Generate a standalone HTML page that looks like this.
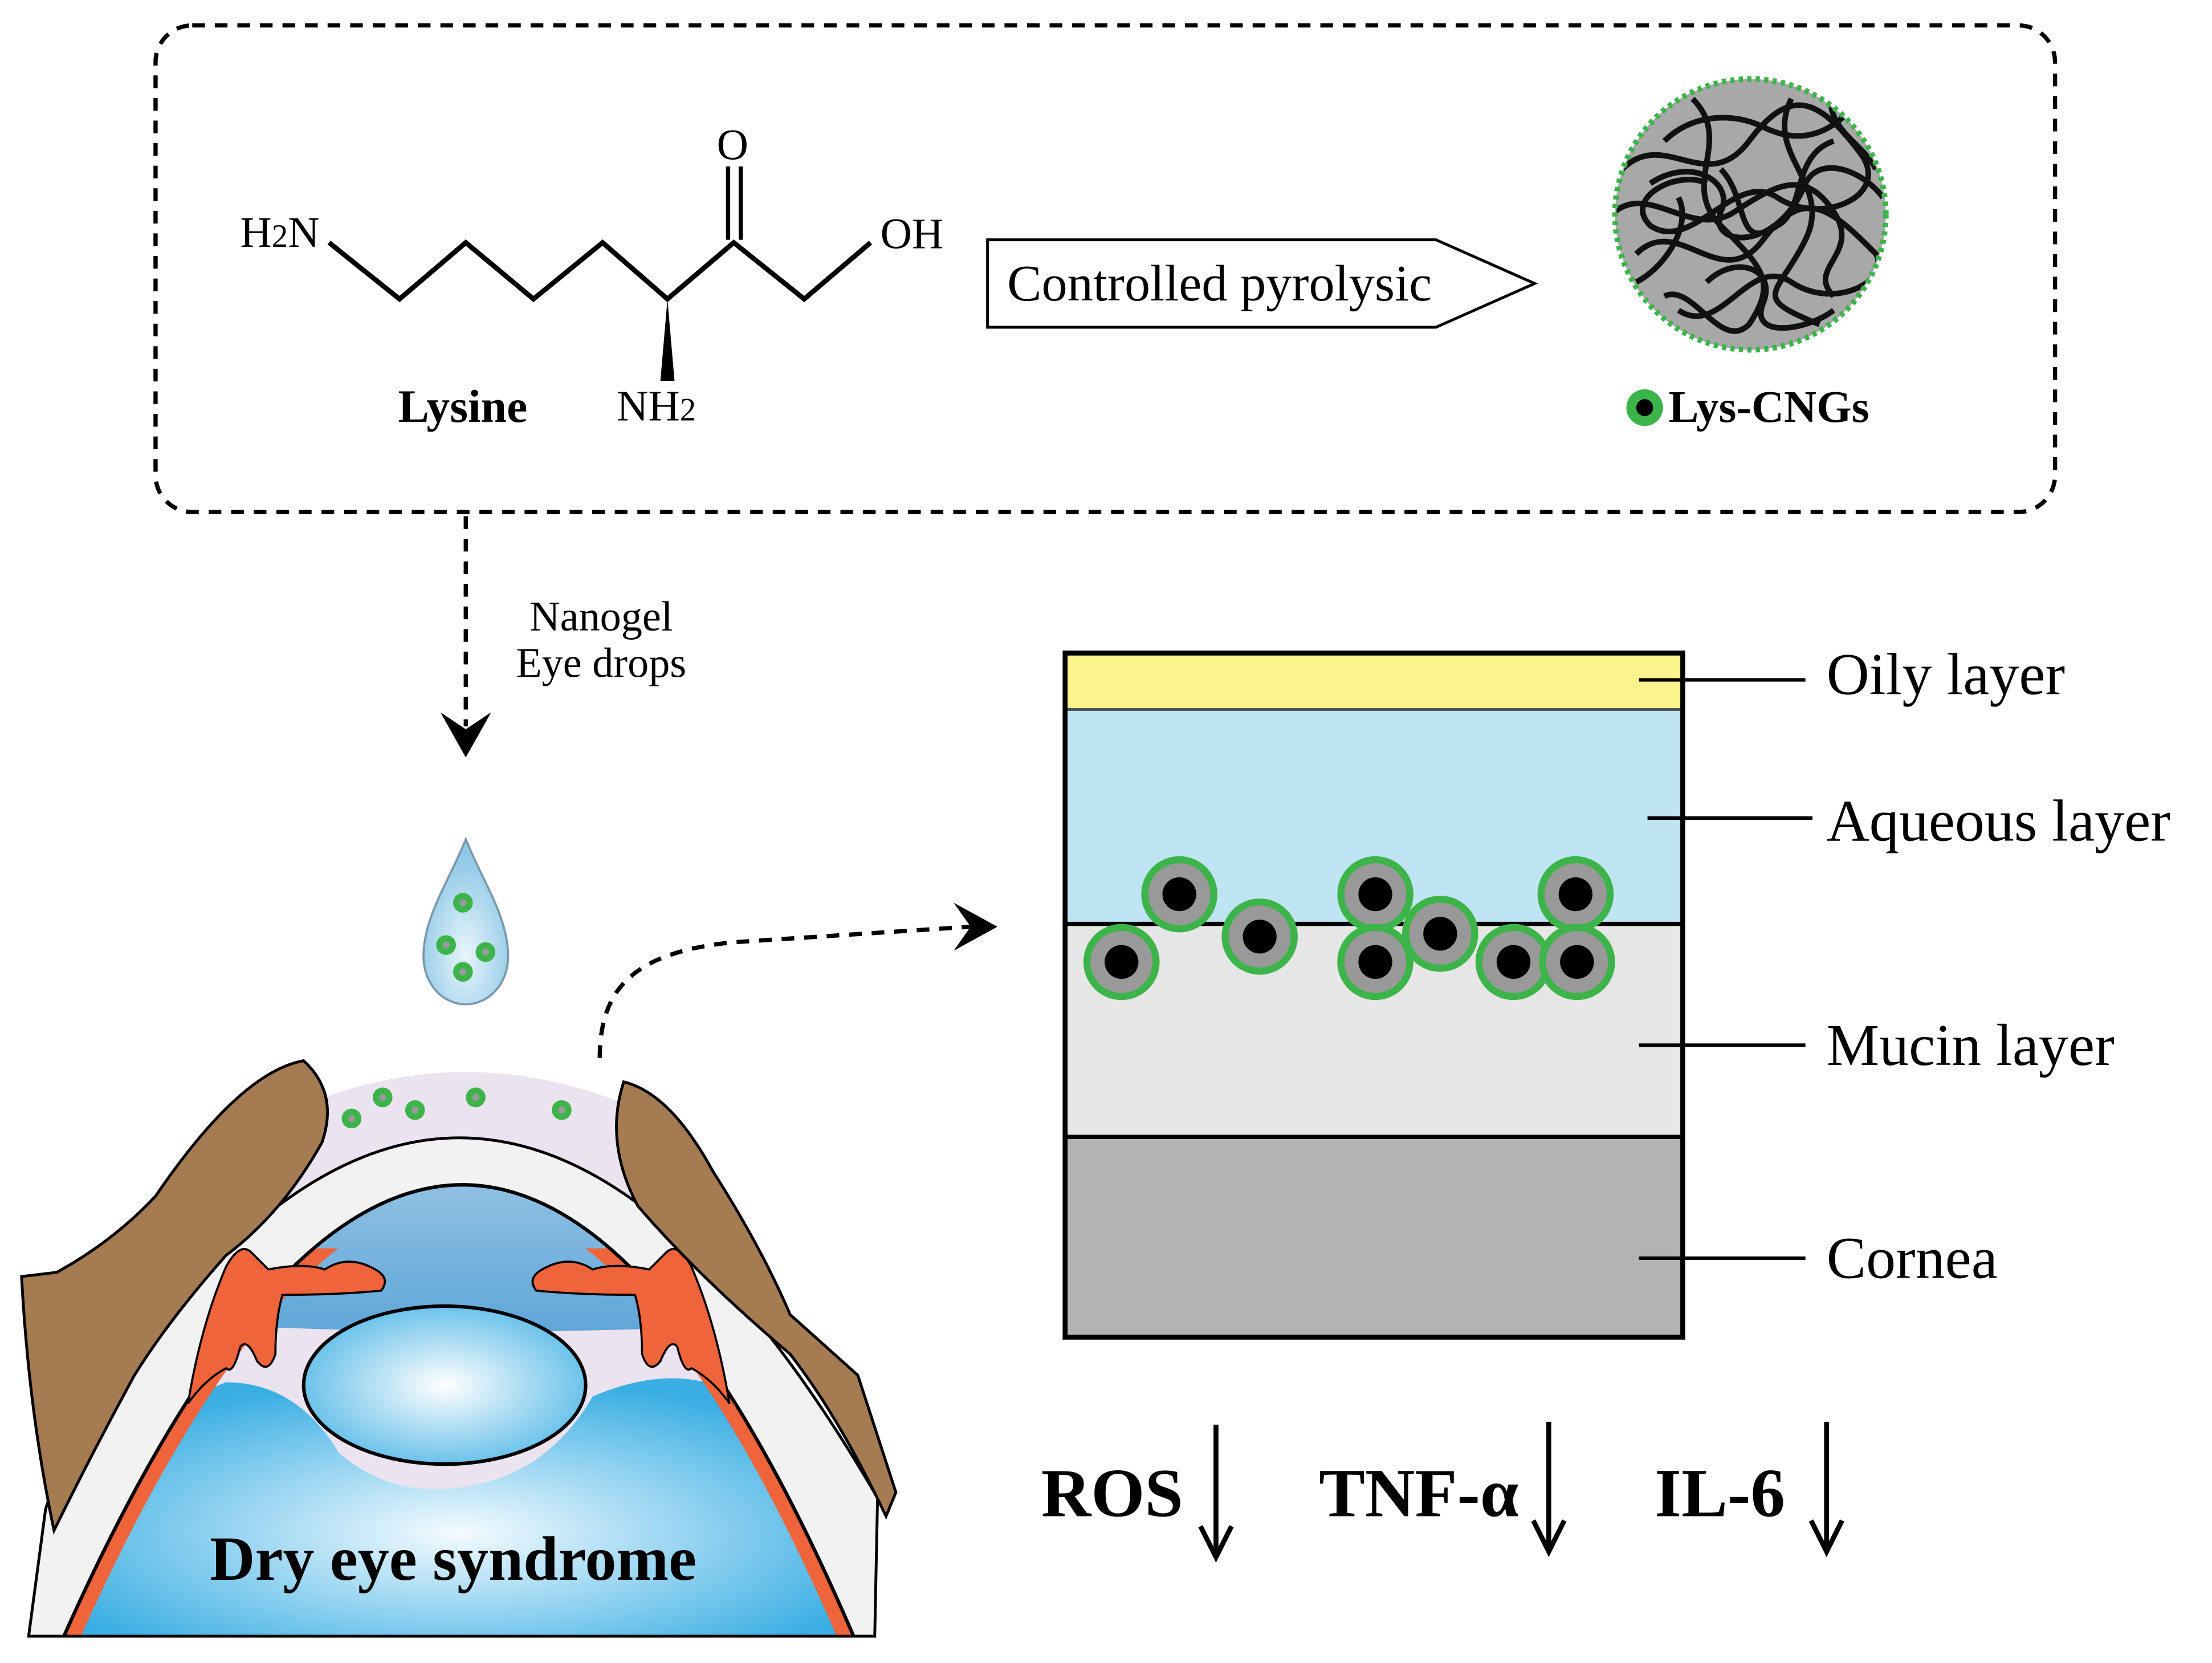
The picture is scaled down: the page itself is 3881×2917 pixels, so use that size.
<!DOCTYPE html>
<html><head><meta charset="utf-8"><style>
html,body{margin:0;padding:0;background:#fff}
svg{display:block}
text{font-family:"Liberation Serif",serif}
</style></head><body>
<svg width="3881" height="2917" viewBox="0 0 1568 1179" xmlns="http://www.w3.org/2000/svg">
<defs>
<radialGradient id="lens" cx="0.5" cy="0.5" r="0.6"><stop offset="0" stop-color="#fff"/><stop offset="1" stop-color="#4fb6e6"/></radialGradient>
<radialGradient id="post" cx="0.5" cy="0.6" r="0.6"><stop offset="0" stop-color="#f4fbff"/><stop offset="1" stop-color="#3aaee3"/></radialGradient>
<linearGradient id="ant" x1="0" y1="0" x2="0" y2="1"><stop offset="0" stop-color="#cfe3f1"/><stop offset="1" stop-color="#5fa6d8"/></linearGradient>
<radialGradient id="drop" cx="0.5" cy="0.7" r="0.6"><stop offset="0" stop-color="#e8f5fb"/><stop offset="1" stop-color="#8fc8e8"/></radialGradient>
<clipPath id="ng"><circle cx="1241" cy="152" r="95"/></clipPath>
<clipPath id="low"><rect x="0" y="885" width="700" height="300"/></clipPath>
<clipPath id="inner"><path d="M45,1160 Q330,520 605,1160 Z"/></clipPath>
</defs>

<rect x="110" y="18" width="1347" height="345" rx="26" fill="none" stroke="#000" stroke-width="3" stroke-dasharray="9,7"/>

<text x="170" y="175" font-size="31">H<tspan font-size="23">2</tspan>N</text>
<polyline points="233,172 283,212 330,172 378,212 427,172 473,212 520,172 570,212 617,172" fill="none" stroke="#000" stroke-width="3.5"/>
<line x1="516" y1="170" x2="516" y2="118" stroke="#000" stroke-width="3"/>
<line x1="525" y1="170" x2="525" y2="118" stroke="#000" stroke-width="3"/>
<text x="508" y="113" font-size="31">O</text>
<text x="624" y="176" font-size="31">OH</text>
<polygon points="473,212 468,270 478,270" fill="#000"/>
<text x="437" y="298" font-size="31">NH<tspan font-size="23">2</tspan></text>
<text x="282" y="299" font-size="33" font-weight="bold">Lysine</text>

<polygon points="700,170 1018,170 1088,201 1018,232 700,232" fill="#fff" stroke="#000" stroke-width="2"/>
<text x="714" y="213" font-size="36.5">Controlled pyrolysic</text>

<circle cx="1241" cy="152" r="96" fill="#a8a8a8"/>
<g clip-path="url(#ng)" fill="none" stroke="#111" stroke-width="4">
<path d="M1150,120 C1180,90 1210,140 1240,100 S1290,70 1320,110 C1340,140 1290,160 1260,140 S1200,180 1170,160 C1150,140 1190,120 1210,130"/>
<path d="M1160,180 C1190,150 1220,210 1250,170 S1300,150 1330,180 C1340,200 1300,220 1270,200 S1220,240 1190,220"/>
<path d="M1200,70 C1230,100 1190,130 1220,160 S1260,200 1240,230 C1220,250 1200,200 1180,210"/>
<path d="M1270,70 C1250,110 1300,130 1280,170 S1240,210 1290,230"/>
<path d="M1145,150 C1170,130 1200,170 1230,150 S1280,120 1300,150 C1320,180 1280,190 1300,210"/>
<path d="M1180,100 C1200,80 1230,80 1250,90 C1280,105 1300,90 1310,80"/>
<path d="M1210,200 C1230,180 1260,190 1250,215 C1240,240 1280,235 1300,220"/>
<path d="M1170,130 C1200,110 1230,130 1220,150 C1210,175 1260,180 1280,130 C1290,110 1320,120 1335,140"/>
<path d="M1220,120 C1240,140 1230,180 1260,160 C1280,150 1270,110 1300,100"/>
<path d="M1160,200 C1180,190 1200,160 1190,140 M1300,60 C1290,90 1320,100 1330,120"/>
</g>
<circle cx="1241" cy="152" r="96" fill="none" stroke="#3cb44a" stroke-width="4" stroke-dasharray="3,3"/>
<circle cx="1166" cy="289" r="13" fill="#3cb44a"/><circle cx="1166" cy="289" r="6" fill="#000"/>
<text x="1183" y="299" font-size="32" font-weight="bold">Lys-CNGs</text>

<line x1="330" y1="366" x2="330" y2="515" stroke="#000" stroke-width="3" stroke-dasharray="9,7"/>
<path d="M312,505 L330,537 L348,505 L330,517 Z" fill="#000"/>
<text x="426" y="447" font-size="30" text-anchor="middle">Nanogel</text>
<text x="426" y="480" font-size="30" text-anchor="middle">Eye drops</text>

<path d="M330,595 C318,625 300,650 300,678 C300,698 314,712 330,712 C346,712 360,698 360,678 C360,650 342,625 330,595 Z" fill="url(#drop)" stroke="#7a98aa" stroke-width="1.5"/>
<g fill="#3cb44a"><circle cx="328" cy="640" r="7"/><circle cx="316" cy="670" r="7"/><circle cx="344" cy="675" r="7"/><circle cx="328" cy="689" r="7"/></g>
<g fill="#999"><circle cx="328" cy="640" r="2.5"/><circle cx="316" cy="670" r="2.5"/><circle cx="344" cy="675" r="2.5"/><circle cx="328" cy="689" r="2.5"/></g>

<path d="M425,750 C425,700 450,675 520,668 L688,657" fill="none" stroke="#000" stroke-width="3" stroke-dasharray="9,7"/>
<path d="M676,640 L707,657 L676,674 L688,657 Z" fill="#000"/>

<!-- eye -->
<path d="M200,790 Q330,730 460,790 L470,900 L190,900 Z" fill="#ebe4f0"/>
<path d="M20,1160 L32,1070 L40,1045 Q330,560 622,1062 L620,1160 Z" fill="#f2f2f2" stroke="#000" stroke-width="2"/>
<path d="M45,1160 Q330,520 605,1160 Z" fill="#ebe4f0"/>
<g clip-path="url(#inner)">
<path d="M0,700 L700,700 L700,928 Q330,960 0,928 Z" fill="url(#ant)"/>
<path d="M57,1160 Q75,1010 160,980 Q210,980 240,1030 Q275,1060 320,1055 Q385,1050 420,990 Q490,960 540,1000 Q580,1060 593,1160 Z" fill="url(#post)"/>
<g clip-path="url(#low)">
<path d="M45,1160 Q330,520 605,1160" fill="none" stroke="#ef643a" stroke-width="22"/>
</g>
</g>
<path d="M45,1160 Q330,520 605,1160" fill="none" stroke="#000" stroke-width="2.5"/>
<path d="M160,898 Q170,880 178,888 L190,900 Q215,895 230,900 Q245,890 262,898 Q278,905 270,915 Q240,918 200,918 Q195,935 195,960 Q190,975 182,965 Q175,948 170,955 Q165,975 160,970 Q145,978 133,995 Q142,940 160,898 Z" fill="#ef643a" stroke="#000" stroke-width="1.5"/>
<path d="M490,898 Q480,880 472,888 L460,900 Q435,895 420,900 Q405,890 388,898 Q372,905 380,915 Q410,918 450,918 Q455,935 455,960 Q460,975 468,965 Q475,948 480,955 Q485,975 490,970 Q505,978 517,995 Q508,940 490,898 Z" fill="#ef643a" stroke="#000" stroke-width="1.5"/>
<ellipse cx="315" cy="982" rx="100" ry="56" fill="url(#lens)" stroke="#000" stroke-width="2.5"/>
<path d="M15,905 L40,902 Q80,880 110,848 Q170,760 215,752 Q240,775 228,810 Q200,860 160,890 Q120,935 95,975 Q65,1030 38,1085 Q20,1000 15,905 Z" fill="#a57b52" stroke="#000" stroke-width="2"/>
<path d="M442,767 Q475,775 505,830 Q540,885 560,932 L608,975 L635,1058 L628,1075 Q595,1005 560,960 Q495,905 452,855 Q428,810 442,767 Z" fill="#a57b52" stroke="#000" stroke-width="2"/>
<g fill="#3cb44a"><circle cx="249" cy="793" r="7"/><circle cx="271" cy="778" r="7"/><circle cx="294" cy="787" r="7"/><circle cx="337" cy="778" r="7"/><circle cx="398" cy="787" r="7"/></g>
<g fill="#999"><circle cx="249" cy="793" r="2.5"/><circle cx="271" cy="778" r="2.5"/><circle cx="294" cy="787" r="2.5"/><circle cx="337" cy="778" r="2.5"/><circle cx="398" cy="787" r="2.5"/></g>
<line x1="20" y1="1160" x2="620" y2="1160" stroke="#000" stroke-width="2"/>
<text x="321" y="1120" font-size="44.5" font-weight="bold" text-anchor="middle">Dry eye syndrome</text>

<rect x="755" y="463" width="438" height="40" fill="#fbf48d"/>
<rect x="755" y="503" width="438" height="152" fill="#bfe5f5"/>
<rect x="755" y="655" width="438" height="151" fill="#e6e6e6"/>
<rect x="755" y="806" width="438" height="142" fill="#b3b3b3"/>
<line x1="755" y1="503" x2="1193" y2="503" stroke="#555" stroke-width="2"/>
<line x1="755" y1="655" x2="1193" y2="655" stroke="#000" stroke-width="3"/>
<line x1="755" y1="806" x2="1193" y2="806" stroke="#000" stroke-width="3"/>
<rect x="755" y="463" width="438" height="485" fill="none" stroke="#000" stroke-width="3.5"/>
<g stroke="#000" stroke-width="2.5">
<line x1="1162" y1="482" x2="1280" y2="482"/>
<line x1="1168" y1="580" x2="1285" y2="580"/>
<line x1="1162" y1="741" x2="1280" y2="741"/>
<line x1="1162" y1="892" x2="1280" y2="892"/>
</g>
<g font-size="42">
<text x="1295" y="492">Oily layer</text>
<text x="1295" y="596">Aqueous layer</text>
<text x="1295" y="755">Mucin layer</text>
<text x="1295" y="906">Cornea</text>
</g>
<g>
<g transform="translate(836,634)"><circle r="27" fill="#3cb44a"/><circle r="22" fill="#999"/><circle r="12" fill="#000"/></g>
<g transform="translate(893,664)"><circle r="27" fill="#3cb44a"/><circle r="22" fill="#999"/><circle r="12" fill="#000"/></g>
<g transform="translate(975,634)"><circle r="27" fill="#3cb44a"/><circle r="22" fill="#999"/><circle r="12" fill="#000"/></g>
<g transform="translate(1117,634)"><circle r="27" fill="#3cb44a"/><circle r="22" fill="#999"/><circle r="12" fill="#000"/></g>
<g transform="translate(795,682)"><circle r="27" fill="#3cb44a"/><circle r="22" fill="#999"/><circle r="12" fill="#000"/></g>
<g transform="translate(975,682)"><circle r="27" fill="#3cb44a"/><circle r="22" fill="#999"/><circle r="12" fill="#000"/></g>
<g transform="translate(1021,662)"><circle r="27" fill="#3cb44a"/><circle r="22" fill="#999"/><circle r="12" fill="#000"/></g>
<g transform="translate(1073,682)"><circle r="27" fill="#3cb44a"/><circle r="22" fill="#999"/><circle r="12" fill="#000"/></g>
<g transform="translate(1118,682)"><circle r="27" fill="#3cb44a"/><circle r="22" fill="#999"/><circle r="12" fill="#000"/></g>
</g>

<g font-size="49" font-weight="bold">
<text x="738" y="1075">ROS</text>
<text x="935" y="1075">TNF-α</text>
<text x="1173" y="1075">IL-6</text>
</g>
<g stroke="#000" stroke-width="3.5" fill="none">
<line x1="862" y1="1010" x2="862" y2="1100"/><polyline points="851,1082 862,1104 873,1082"/>
<line x1="1098" y1="1008" x2="1098" y2="1096"/><polyline points="1087,1078 1098,1100 1109,1078"/>
<line x1="1295" y1="1008" x2="1295" y2="1096"/><polyline points="1284,1078 1295,1100 1306,1078"/>
</g>
</svg>
</body></html>
